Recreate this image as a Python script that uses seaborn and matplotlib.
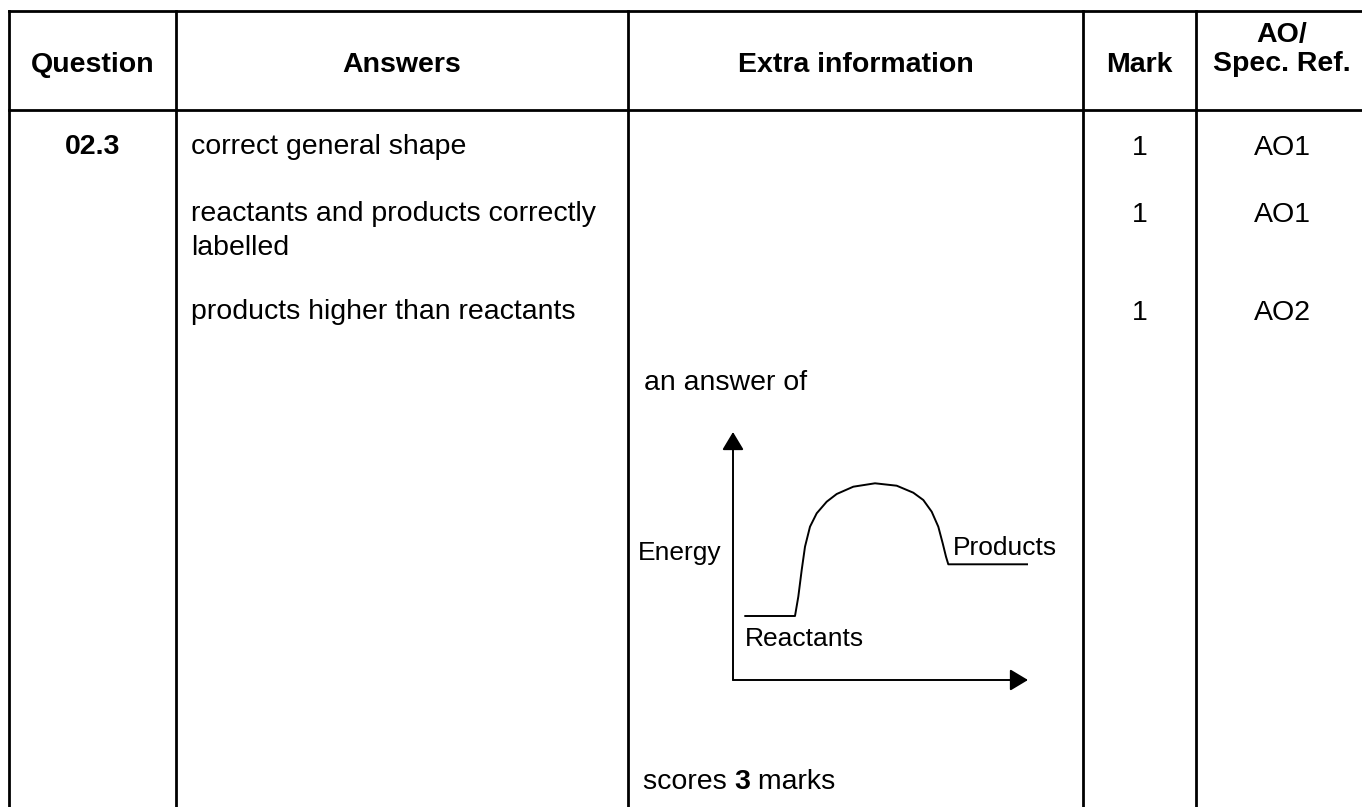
import matplotlib
matplotlib.use("Agg")
import matplotlib.pyplot as plt
import seaborn as sns
import pandas as pd

# ---------------- data ----------------
headers = ["Question", "Answers", "Extra information", "Mark", "AO/\nSpec. Ref."]
question = "02.3"
answers = ["correct general shape",
           "reactants and products correctly\nlabelled",
           "products higher than reactants"]
marks = ["1", "1", "1"]
ao_refs = ["AO1", "AO1", "AO2"]
extra_intro = "an answer of"
extra_outro = ["scores ", "3", " marks"]
label_energy = "Energy"
label_reactants = "Reactants"
label_products = "Products"

# energy profile (reaction progress, energy)
progress = [12, 62, 65.3, 68.7, 72, 77, 83.7, 93.7, 103.7, 120.3, 142, 163.7,
            180.3, 190.3, 198.7, 205.3, 209.7, 213, 215.3, 295]
energy = [64, 64, 83.3, 110, 133.3, 153.3, 166.7, 178.3, 186, 193.3, 196.7, 194.3,
          187.3, 180, 168.3, 153.3, 136.7, 123.3, 115.7, 115.7]

# ---------------- figure ----------------
sns.set_theme(style="white")
plt.rcParams["font.family"] = ["Liberation Sans", "DejaVu Sans"]
plt.rcParams["text.color"] = "black"

W, H = 1362, 807
fig = plt.figure(figsize=(W / 100, H / 100), dpi=100)
ax = fig.add_axes([0, 0, 1, 1])
ax.set_xlim(0, W)
ax.set_ylim(H, 0)
ax.axis("off")

FS = 20.5       # body font (pt)
LW = 2.0        # table rule width (pt)

# table grid
col_x = [9, 176, 628, 1083, 1196, 1368]
top_y, head_y = 11, 110
for x in col_x:
    ax.plot([x, x], [top_y, H + 5], color="black", lw=LW, solid_capstyle="projecting")
for y in (top_y, head_y):
    ax.plot([col_x[0], W + 5], [y, y], color="black", lw=LW, solid_capstyle="projecting")

centers = [(col_x[i] + col_x[i + 1]) / 2 for i in range(5)]

# header
for i, h in enumerate(headers):
    if "\n" in h:
        l1, l2 = h.split("\n")
        ax.text(centers[i], 42, l1, ha="center", va="baseline", fontsize=FS, fontweight="bold")
        ax.text(centers[i], 71, l2, ha="center", va="baseline", fontsize=FS, fontweight="bold")
    else:
        ax.text(centers[i], 72, h, ha="center", va="baseline", fontsize=FS, fontweight="bold")

# body rows
row_base = [154, 221, 319]
ax.text(centers[0], row_base[0], question, ha="center", va="baseline", fontsize=FS, fontweight="bold")
for r, (a, m, ao) in enumerate(zip(answers, marks, ao_refs)):
    lines = a.split("\n")
    for k, ln in enumerate(lines):
        ax.text(191, row_base[r] + 34 * k, ln, ha="left", va="baseline", fontsize=FS)
    ax.text(centers[3], row_base[r] + 1, m, ha="center", va="baseline", fontsize=FS)
    ax.text(centers[4], row_base[r] + 1, ao, ha="center", va="baseline", fontsize=FS)

# extra information text
ax.text(644, 390, extra_intro, ha="left", va="baseline", fontsize=FS)
renderer = fig.canvas.get_renderer()
xcur = 643
for k, part in enumerate(extra_outro):
    t = ax.text(xcur, 789, part, ha="left", va="baseline", fontsize=FS,
                fontweight="bold" if k == 1 else "normal")
    bb = t.get_window_extent(renderer=renderer)
    xcur += bb.width

# diagram labels
DFS = 19
ax.text(680, 560, label_energy, ha="center", va="baseline", fontsize=DFS)
ax.text(745, 646, label_reactants, ha="left", va="baseline", fontsize=DFS)
ax.text(953, 555, label_products, ha="left", va="baseline", fontsize=DFS)

# diagram inset (origin at the axes corner)
ox, oy, dw, dh = 733, 680, 295, 248
dax = fig.add_axes([ox / W, (H - oy) / H, dw / W, dh / H])
dax.set_xlim(0, dw)
dax.set_ylim(0, dh)
dax.axis("off")
dax.patch.set_alpha(0)

df = pd.DataFrame({"progress": progress, "energy": energy})
sns.lineplot(data=df, x="progress", y="energy", ax=dax, color="black", lw=1.4,
             sort=False, estimator=None, legend=False)
for ln in dax.get_lines():
    ln.set_solid_joinstyle("round")

arrow = dict(arrowstyle="-|>,head_length=0.55,head_width=0.33", color="black",
             lw=1.4, mutation_scale=20, shrinkA=0, shrinkB=0)
dax.annotate("", xy=(0, dh), xytext=(0, 0), arrowprops=arrow, annotation_clip=False)
dax.annotate("", xy=(dw, 0), xytext=(0, 0), arrowprops=arrow, annotation_clip=False)
dax.set_xlabel("")
dax.set_ylabel("")

fig.savefig("out.png", dpi=100, facecolor="white")
